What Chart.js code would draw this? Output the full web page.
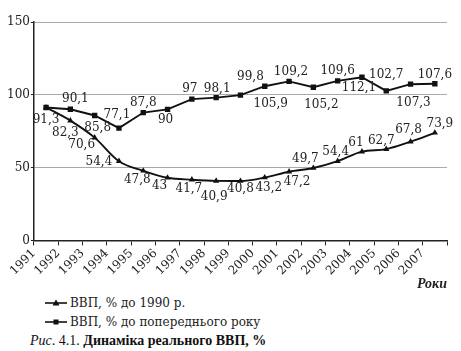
<!DOCTYPE html>
<html><head><meta charset="utf-8">
<script src="https://cdn.jsdelivr.net/npm/chart.js@4.4.1/dist/chart.umd.min.js"></script>
<style>
html,body{margin:0;padding:0;background:#fff;width:461px;height:351px;overflow:hidden;}
#wrap{position:absolute;left:0;top:0;width:461px;height:293px;}
.leg{position:absolute;left:45px;font-family:'DejaVu Serif',serif;font-size:12px;color:#222;display:flex;align-items:center;white-space:nowrap;}
.leg svg{margin-right:3px;}
#cap{position:absolute;left:30px;top:333px;font-family:'Liberation Serif',serif;font-size:14px;color:#111;white-space:nowrap;}
#cap i{font-style:italic;}
#cap b{font-weight:bold;}
</style></head><body>
<div id="wrap"><canvas id="c"></canvas></div>
<div class="leg" style="top:296px"><svg width="22" height="10"><line x1="0" y1="5" x2="22" y2="5" stroke="#111" stroke-width="1.6"/><polygon points="11,1.5 14.5,7.5 7.5,7.5" fill="#111"/></svg><span id="l1"></span></div>
<div class="leg" style="top:315px"><svg width="22" height="10"><line x1="0" y1="5" x2="22" y2="5" stroke="#111" stroke-width="1.6"/><rect x="8.5" y="2.5" width="5" height="5" fill="#111"/></svg><span id="l2"></span></div>
<div id="cap"><i>Рис</i>. 4.1. <b>Динаміка реального ВВП, %</b></div>
<script>
const years = ['1991','1992','1993','1994','1995','1996','1997','1998','1999','2000','2001','2002','2003','2004','2005','2006','2007'];
const gdpVs1990 = [91.3, 82.3, 70.6, 54.4, 47.8, 43, 41.7, 40.9, 40.8, 43.2, 47.2, 49.7, 54.4, 61, 62.7, 67.8, 73.9];
const gdpVsPrev = [91.3, 90.1, 85.8, 77.1, 87.8, 90, 97, 98.1, 99.8, 105.9, 109.2, 105.2, 109.6, 112.1, 102.7, 107.3, 107.6];
const seriesNames = ['ВВП, % до 1990 р.', 'ВВП, % до попереднього року'];
const yTicks = [0, 50, 100, 150];

// label placement offsets (px) relative to each point; null = no label
const labelOffsets = [
  [null,[-5,12],[-13,7],[-20,1],[-6,9],[-8,8],[-3,9],[-2,16],[0,8],[4,10],[8,10],[-8,-9],[-2,-9],[-6,-9],[-5,-8],[-2,-12],[5,-9]],
  [[0,12],[5,-10],[3,12],[-2,-13],[0,-10],[-2,11],[-2,-10],[1,-9],[10,-18],[6,18],[2,-10],[8,18],[0,-10],[-3,11],[0,-16],[3,19],[0,-9]]
];

document.getElementById('l1').textContent = seriesNames[0];
document.getElementById('l2').textContent = seriesNames[1];

const fmt = v => String(v).replace('.', ',');

const valueLabels = {
  id: 'valueLabels',
  afterDatasetsDraw(chart) {
    const ctx = chart.ctx;
    ctx.save();
    ctx.font = '12px "DejaVu Serif", serif';
    ctx.fillStyle = '#222';
    ctx.textAlign = 'center';
    ctx.textBaseline = 'middle';
    chart.data.datasets.forEach((ds, d) => {
      const meta = chart.getDatasetMeta(d);
      meta.data.forEach((pt, i) => {
        const off = labelOffsets[d][i];
        if (!off) return;
        ctx.fillText(fmt(ds.data[i].y), pt.x + off[0], pt.y + off[1]);
      });
    });
    ctx.restore();
  }
};

const toPoints = arr => arr.map((v, i) => ({x: i + 0.5, y: v}));

new Chart(document.getElementById('c'), {
  type: 'line',
  data: {
    datasets: [
      {label: seriesNames[0], data: toPoints(gdpVs1990), borderColor: '#111', backgroundColor: '#111',
       borderWidth: 1.9, pointStyle: 'triangle', pointRadius: 3.6, pointBackgroundColor: '#111', pointBorderWidth: 0,
       cubicInterpolationMode: 'monotone'},
      {label: seriesNames[1], data: toPoints(gdpVsPrev), borderColor: '#111', backgroundColor: '#111',
       borderWidth: 1.9, pointStyle: 'rect', pointRadius: 3.8, pointBackgroundColor: '#111', pointBorderWidth: 0,
       tension: 0}
    ]
  },
  options: {
    responsive: true, maintainAspectRatio: false, animation: false, devicePixelRatio: 1,
    layout: {padding: {left: 6, right: 14, top: 22, bottom: 0}},
    plugins: {legend: {display: false}, tooltip: {enabled: false}},
    scales: {
      x: {
        type: 'linear', min: 0, max: years.length,
        afterBuildTicks: s => { s.ticks = years.map((_, i) => ({value: i})).concat([{value: years.length}]); },
        ticks: {autoSkip: false, minRotation: 45, maxRotation: 45, padding: 1, color: '#222',
                font: {family: '"DejaVu Serif", serif', size: 12},
                callback: v => years[v] !== undefined ? years[v] : ''},
        grid: {drawOnChartArea: false, tickLength: 5, color: '#222', lineWidth: 1},
        border: {color: '#222', width: 1.5},
        title: {display: true, text: 'Роки', align: 'end', color: '#222',
                font: {family: '"Liberation Serif", serif', size: 14, style: 'italic', weight: 'bold'},
                padding: {top: -3, bottom: 0}}
      },
      y: {
        min: 0, max: 150,
        afterBuildTicks: s => { s.ticks = yTicks.map(v => ({value: v})); },
        ticks: {padding: 1, color: '#222', font: {family: '"DejaVu Serif", serif', size: 12}},
        grid: {color: c => (c.tick && c.tick.value === 0) ? 'rgba(0,0,0,0)' : '#aaa', tickColor: '#222', tickLength: 3, lineWidth: 1},
        border: {color: '#222', width: 1.5}
      }
    }
  },
  plugins: [valueLabels]
});
</script>
</body></html>
